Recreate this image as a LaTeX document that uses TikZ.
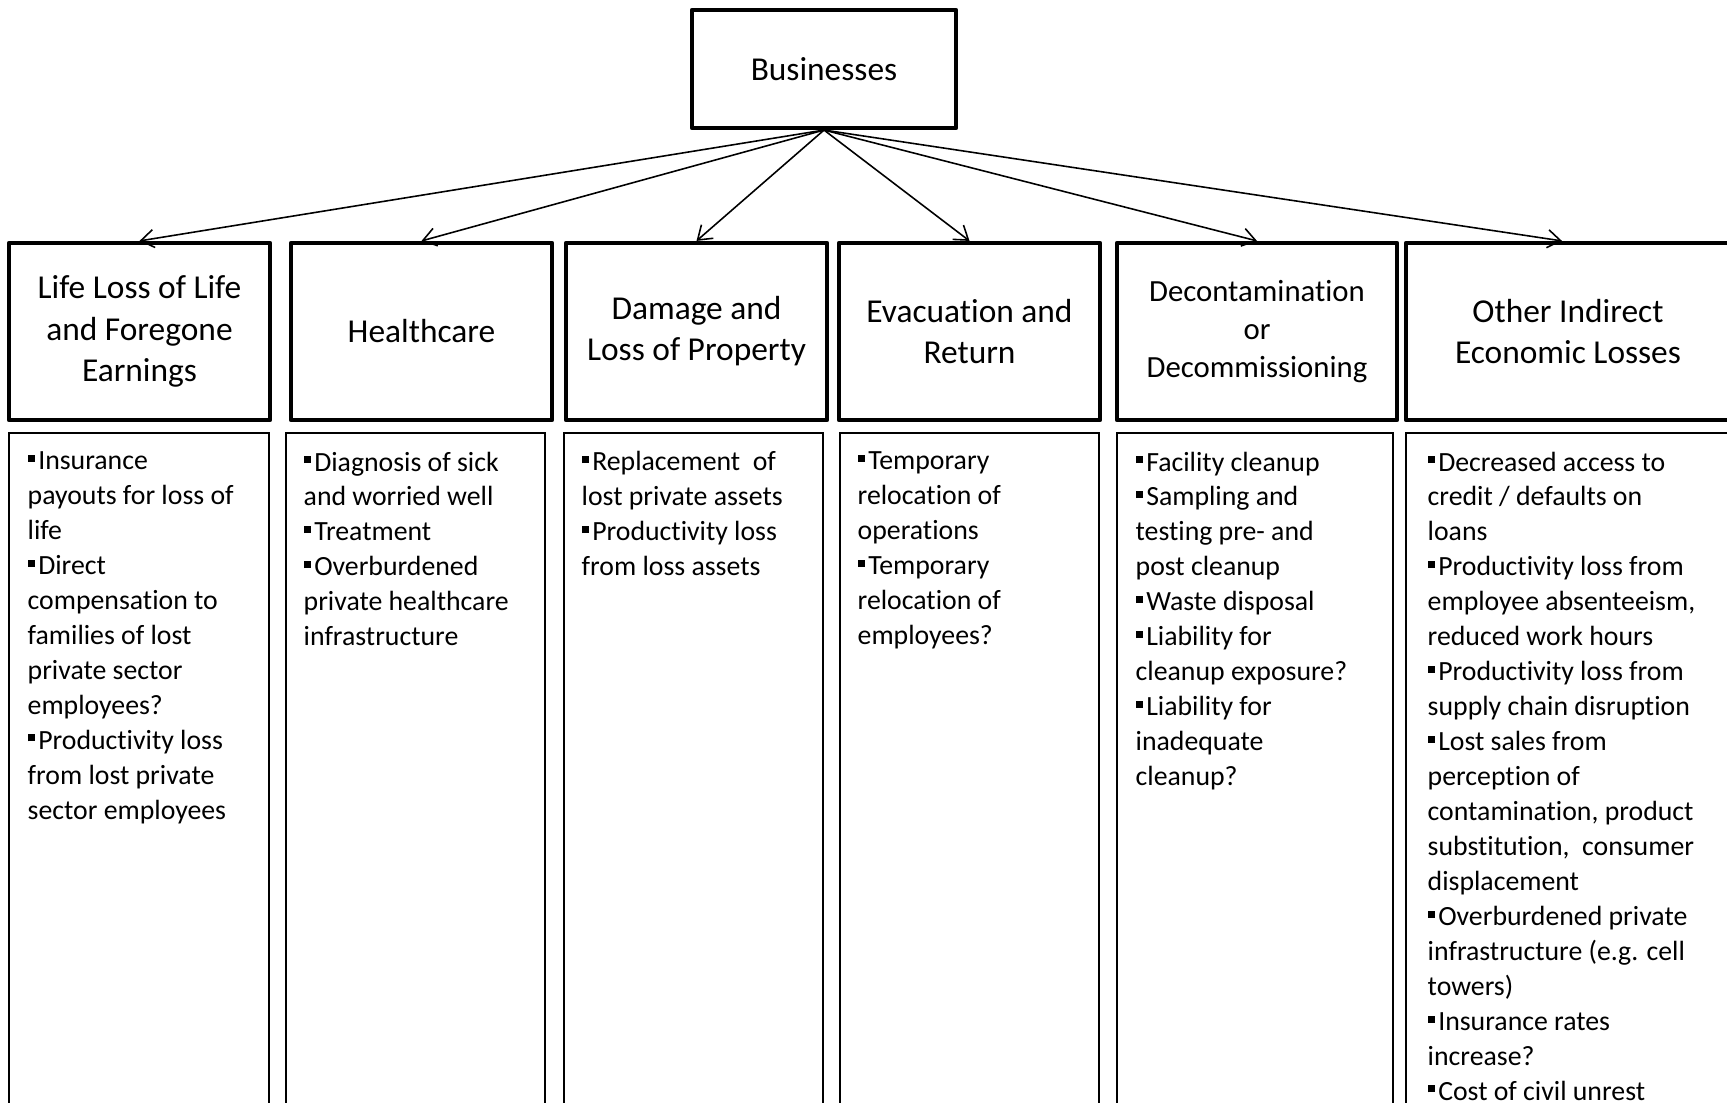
\documentclass[tikz,border=0pt]{standalone}
\usepackage{fontspec}
\setmainfont[Ligatures=NoCommon]{Carlito}
\usetikzlibrary{arrows.meta, calc}
\newcommand{\sqb}{\rule[0.28em]{0.25em}{0.25em}\hspace{0.13em}}

\begin{document}
\begin{tikzpicture}[x=0.01cm,y=-0.01cm,
    headbox/.style={draw,line width=1.15pt,line join=round,minimum height=1.77cm,align=center,inner sep=0pt,font=\fontsize{9.5}{11.7}\selectfont},
    itembox/.style={draw,line width=0.6pt},
    items/.style={anchor=north west,align=left,inner sep=0pt,font=\fontsize{7.9}{9.94}\selectfont},
    link/.style={-{Straight Barb[length=1.3mm,width=1.8mm]},line width=0.45pt}]
  \useasboundingbox (0,0) rectangle (1727,1103);
  \node[headbox,minimum width=2.64cm,minimum height=1.18cm] (biz) at (824,69) {Businesses};
  \node[headbox,minimum width=2.61cm] (life) at (139.5,331.5) {Life Loss of Life\\and Foregone\\Earnings};
  \node[headbox,minimum width=2.61cm] (health) at (421.5,331.5) {Healthcare};
  \node[headbox,minimum width=2.61cm] (property) at (696.5,331.5) {Damage and\\Loss of Property};
  \node[headbox,minimum width=2.61cm] (evac) at (969.5,331.5) {Evacuation and\\Return};
  \node[headbox,minimum width=2.80cm,font=\fontsize{8.75}{10.8}\selectfont] (decon) at (1257,331.5) {Decontamination\\or\\Decommissioning};
  \node[headbox,minimum width=3.54cm] (other) at (1583,331.5) {\hspace*{-0.3cm}Other Indirect\\\hspace*{-0.3cm}Economic Losses};
  \foreach \t in {life,health,property,evac,decon}
    \draw[link] (biz.south) -- (\t.north);
  \draw[link] (biz.south) -- ([xshift=1.58cm]other.north west);
  \draw[itembox] (9,433) rectangle (269,1160);
  \draw[itembox] (286,433) rectangle (545,1160);
  \draw[itembox] (564,433) rectangle (823,1160);
  \draw[itembox] (840,433) rectangle (1099,1160);
  \draw[itembox] (1117,433) rectangle (1393,1160);
  \draw[itembox] (1406,433) rectangle (1760,1160);
  \node[items] (lifeitems) at (27,451) {\sqb Insurance\\payouts for loss of\\life\\\sqb Direct\\compensation to\\families of lost\\private sector\\employees?\\\sqb Productivity loss\\from lost private\\sector employees};
  \node[items] (healthitems) at (303,451) {\sqb Diagnosis of sick\\and worried well\\\sqb Treatment\\\sqb Overburdened\\private healthcare\\infrastructure};
  \node[items] (propertyitems) at (581,451) {\sqb Replacement\ \ of\\lost private assets\\\sqb Productivity loss\\from loss assets};
  \node[items] (evacitems) at (857,451) {\sqb Temporary\\relocation of\\operations\\\sqb Temporary\\relocation of\\employees?};
  \node[items] (deconitems) at (1135,451) {\sqb Facility cleanup\\\sqb Sampling and\\testing pre- and\\post cleanup\\\sqb Waste disposal\\\sqb Liability for\\cleanup exposure?\\\sqb Liability for\\inadequate\\cleanup?};
  \node[items] (otheritems) at (1427,451) {\sqb Decreased access to\\credit / defaults on\\loans\\\sqb Productivity loss from\\employee absenteeism,\\reduced work hours\\\sqb Productivity loss from\\supply chain disruption\\\sqb Lost sales from\\perception of\\contamination, product\\substitution,\ \ consumer\\displacement\\\sqb Overburdened private\\infrastructure (e.g. cell\\towers)\\\sqb Insurance rates\\increase?\\\sqb Cost of civil unrest};
\end{tikzpicture}
\end{document}
